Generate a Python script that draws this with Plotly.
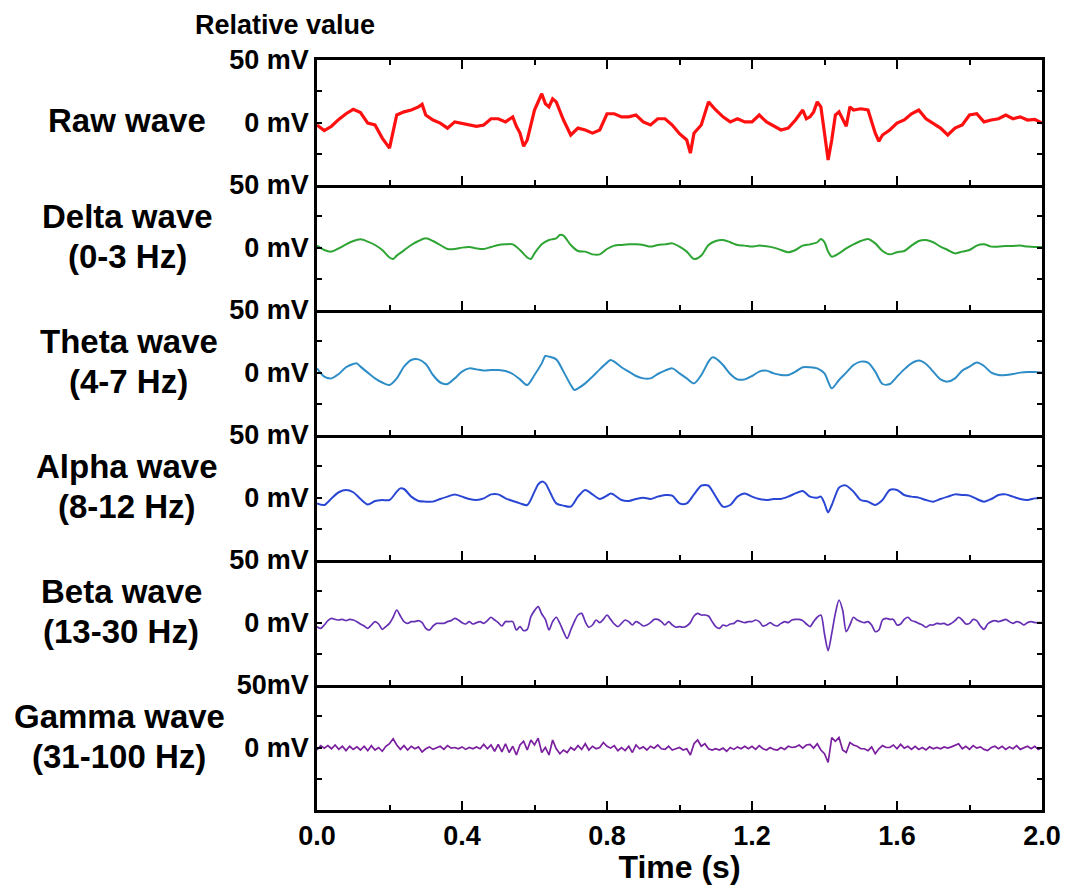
import plotly.graph_objects as go
from plotly.subplots import make_subplots

# ---------------- data ----------------
panel_line1 = ["Raw wave", "Delta wave", "Theta wave", "Alpha wave", "Beta wave", "Gamma wave"]
panel_line2 = ["", "(0-3 Hz)", "(4-7 Hz)", "(8-12 Hz)", "(13-30 Hz)", "(31-100 Hz)"]
y_tick_vals = [-50, -25, 0, 25, 50]
y_tick_text = [
    ["50 mV", "", "0 mV", "", "50 mV"],
    ["50 mV", "", "0 mV", "", ""],
    ["50 mV", "", "0 mV", "", ""],
    ["50 mV", "", "0 mV", "", ""],
    ["50mV", "", "0 mV", "", ""],
    ["", "", "0 mV", "", ""],
]
x_tick_vals = [0.0, 0.4, 0.8, 1.2, 1.6, 2.0]
x_tick_text = ["0.0", "0.4", "0.8", "1.2", "1.6", "2.0"]
x_minor_vals = [0.2, 0.6, 1.0, 1.4, 1.8]

raw_t = [0.00, 0.02, 0.04, 0.06, 0.08, 0.10, 0.12, 0.14, 0.16, 0.18, 0.20, 0.21, 0.22, 0.24, 0.26, 0.28, 0.29,
         0.30, 0.32, 0.34, 0.36, 0.38, 0.40, 0.42, 0.44, 0.46, 0.48, 0.50, 0.52, 0.54, 0.55, 0.56, 0.57, 0.58,
         0.60, 0.62, 0.63, 0.64, 0.65, 0.66, 0.68, 0.70, 0.72, 0.74, 0.76, 0.78, 0.80, 0.82, 0.84, 0.86, 0.88,
         0.90, 0.92, 0.94, 0.96, 0.98, 1.00, 1.02, 1.03, 1.04, 1.06, 1.08, 1.10, 1.12, 1.14, 1.16, 1.18, 1.20,
         1.22, 1.24, 1.26, 1.28, 1.30, 1.32, 1.34, 1.35, 1.36, 1.37, 1.38, 1.39, 1.40, 1.41, 1.42, 1.43, 1.44,
         1.45, 1.46, 1.47, 1.48, 1.50, 1.52, 1.54, 1.55, 1.56, 1.58, 1.60, 1.62, 1.64, 1.66, 1.68, 1.70, 1.72,
         1.74, 1.76, 1.78, 1.80, 1.82, 1.84, 1.86, 1.88, 1.90, 1.92, 1.94, 1.96, 1.98, 2.00]
raw_v = [-2, -6.5, -3, 2.5, 7, 10.5, 8, -0.5, -2, -12.5, -20.5, -6, 6, 8.5, 10, 12.5, 14.5,
         6, 2, -0.5, -4.5, 0.5, -0.5, -2, -3, -2, 3, 3, 0.5, 4.5, -3, -8.5, -19, -14,
         10, 23, 15, 12.5, 19, 16.5, 2, -10, -4.5, -6, -8.5, -6, 7, 7, 4.5, 4.5, 6,
         0.5, -2, 3, 3, -2, -9, -14, -24.5, -8.5, -2, 16.5, 10, 4.5, 0.5, 3, 0.5, 0.5,
         6, 0.5, -3, -6, -4.5, 2, 10, 3, 4.5, 8.5, 16.5, 12.5, -8.5, -30, -14, 6, 8.5,
         3, -3, 12.5, 10, 11, 10, -8.5, -15, -10, -6, -0.5, 2, 7, 10, 3, -0.5, -4.5,
         -10, -4.5, -2, 6, 7, 0.5, 2, 3, 6, 3, 4.5, 2, 2.5, -0.5]

delta_t = [0.00, 0.02, 0.04, 0.06, 0.08, 0.10, 0.12, 0.14, 0.16, 0.18, 0.20, 0.21, 0.22, 0.24, 0.26, 0.28,
           0.30, 0.32, 0.34, 0.36, 0.38, 0.40, 0.42, 0.44, 0.46, 0.48, 0.50, 0.52, 0.54, 0.56, 0.58, 0.59,
           0.60, 0.62, 0.64, 0.66, 0.67, 0.68, 0.70, 0.72, 0.74, 0.76, 0.78, 0.80, 0.82, 0.84, 0.86, 0.88,
           0.90, 0.92, 0.94, 0.96, 0.98, 1.00, 1.02, 1.04, 1.06, 1.08, 1.10, 1.12, 1.14, 1.16, 1.18, 1.20,
           1.22, 1.24, 1.26, 1.28, 1.30, 1.32, 1.34, 1.36, 1.38, 1.39, 1.40, 1.41, 1.42, 1.44, 1.46, 1.48,
           1.50, 1.52, 1.54, 1.56, 1.58, 1.60, 1.62, 1.64, 1.66, 1.68, 1.70, 1.72, 1.74, 1.76, 1.78, 1.80,
           1.82, 1.84, 1.86, 1.88, 1.90, 1.92, 1.94, 1.96, 1.98, 2.00]
delta_v = [1.5, -2, -3.3, -0.7, 2.5, 5.2, 6.5, 4.7, 2, -2, -8, -9.2, -6.5, -2.3, 2, 5.2,
           7.3, 5.2, 2, -1.2, -1.2, -0.1, 0.4, -0.7, -1.2, 0.4, 2, 2.5, 2.5, -2, -8, -9.2,
           -4.7, 2.5, 6, 7.3, 10, 9.5, 2, -2.8, -3.3, -5.5, -5.5, -1.2, 1.5, 2, 2.5, 2.5,
           2, 0.7, 2, 2.5, 3.3, 0.7, -3.3, -9.2, -6.5, 2, 5.2, 6, 4.2, 2, 1.5, 0.7,
           1.5, 1, -0.1, -2, -3.8, -2, 1.5, 2.5, 4.2, 6.8, 4.2, -3.3, -7.3, -4.7, -0.7, 2.5,
           5.2, 6.8, 3.3, -2.8, -5.5, -3.8, -2.8, 1.5, 5.2, 6, 4.2, 0.7, -2, -4.7, -3.3, -2,
           1.5, 2.5, 0.7, 0.7, 1.2, 1.2, 1.5, 0.7, 0.4, 0.4]

theta_t = [0.00, 0.02, 0.04, 0.06, 0.08, 0.10, 0.11, 0.12, 0.14, 0.16, 0.18, 0.20, 0.22, 0.24, 0.26, 0.28,
           0.30, 0.32, 0.34, 0.36, 0.38, 0.40, 0.42, 0.44, 0.46, 0.48, 0.50, 0.52, 0.54, 0.56, 0.58, 0.60,
           0.62, 0.63, 0.64, 0.66, 0.68, 0.70, 0.71, 0.72, 0.74, 0.76, 0.78, 0.80, 0.81, 0.82, 0.84, 0.86,
           0.88, 0.90, 0.92, 0.94, 0.96, 0.98, 1.00, 1.02, 1.04, 1.06, 1.08, 1.09, 1.10, 1.12, 1.14, 1.16,
           1.18, 1.20, 1.22, 1.24, 1.26, 1.28, 1.30, 1.32, 1.34, 1.36, 1.38, 1.40, 1.41, 1.42, 1.44, 1.46,
           1.48, 1.50, 1.52, 1.54, 1.56, 1.58, 1.60, 1.62, 1.64, 1.66, 1.68, 1.70, 1.72, 1.74, 1.76, 1.78,
           1.80, 1.82, 1.84, 1.86, 1.88, 1.90, 1.92, 1.94, 1.96, 1.98, 2.00]
theta_v = [3.3, -3.3, -4.7, -1.2, 4.2, 6.8, 7.3, 4.7, -0.1, -4.7, -8, -10, -4.7, 4.7, 10, 10.5,
           6.8, -2, -8, -9.2, -4.7, 0.7, 3.3, 2.5, 1.5, 2, 2, 1.2, -1.2, -5.5, -10, -2,
           7.3, 13.2, 12.7, 10.5, 0.7, -10, -14, -12.7, -8.7, -3.3, 2.5, 7.9, 10, 8.7, 4.2, 0.7,
           -2.8, -4.7, -4.7, -1.2, 1.5, 3.3, -0.7, -4.7, -8.7, -2, 8.7, 12.1, 11.3, 6, -1.2, -5.5,
           -5.5, -2.8, 0.7, 1.5, -0.7, -2, -2, 0.7, 4.2, 4.2, 3.3, -0.7, -7.3, -12.7, -6, -0.1,
           6, 8.7, 7.9, 0.7, -9.2, -9.2, -3.3, 2.5, 7.3, 9.5, 6.8, 0.7, -5.5, -7.3, -4.7, 1.5,
           4.7, 7.9, 5.2, -0.1, -2, -2, -1.2, -0.1, 0.4, 0.4, -0.1]

alpha_t = [0.00, 0.02, 0.04, 0.06, 0.08, 0.10, 0.12, 0.14, 0.16, 0.18, 0.20, 0.22, 0.23, 0.24, 0.26, 0.28,
           0.30, 0.32, 0.34, 0.36, 0.38, 0.40, 0.42, 0.44, 0.46, 0.48, 0.50, 0.52, 0.54, 0.56, 0.58, 0.60,
           0.61, 0.62, 0.63, 0.64, 0.66, 0.68, 0.70, 0.72, 0.74, 0.76, 0.78, 0.80, 0.81, 0.82, 0.84, 0.86,
           0.88, 0.90, 0.92, 0.94, 0.96, 0.98, 1.00, 1.02, 1.04, 1.06, 1.07, 1.08, 1.10, 1.12, 1.14, 1.16,
           1.18, 1.20, 1.22, 1.24, 1.26, 1.28, 1.30, 1.32, 1.34, 1.36, 1.38, 1.39, 1.40, 1.41, 1.42, 1.44,
           1.45, 1.46, 1.48, 1.50, 1.52, 1.54, 1.56, 1.58, 1.60, 1.62, 1.64, 1.66, 1.68, 1.70, 1.72, 1.74,
           1.76, 1.78, 1.80, 1.82, 1.84, 1.86, 1.88, 1.90, 1.92, 1.94, 1.96, 1.98, 2.00]
alpha_v = [-4.7, -6, -0.7, 4.2, 6, 4.2, -1.2, -5.5, -2.8, -2, -2, 4.7, 7.3, 6.8, 0.7, -2.8,
           -3.3, -3.3, -1.2, 0.7, 2.5, 0.7, -1.2, -2, -0.7, 2.5, 2.5, -0.7, -2.8, -4.7, -6, 4.7,
           10.5, 12.7, 11.3, 6, -4.7, -6.5, -7.3, 0.7, 6, 2.5, -1.2, 1.5, 3.3, 2, -2, -2.8,
           -1.2, -0.1, -1.2, 0.7, 2, 1.5, -4.7, -4.7, 2.5, 9.5, 10, 9.5, 0.7, -7.3, -6, 0.7,
           3.3, 0.7, -1.2, -2, -1.2, -1.2, 0.7, 3.3, 5.2, 0.7, -0.1, 0.7, -4.7, -11.9, -6, 7.9,
           9.5, 9.5, 4.7, -2, -3.3, -6, -2, 6, 6, 2, 0.7, -0.1, -2, -3.3, -1.2, 0.7,
           2.5, 2, 1.5, -1.2, -3.3, -1.2, 2, 2.5, 0.7, -1.2, -2, -0.7, -0.1]

beta_t = [i / 100 for i in range(201)]
beta_v = [-3.3, -4.7, -2, 1.5, 3.3, 2.5, 2, 2.5, 1.5, 2.5, 2, 0.7, -1.2, -2.8, -4.7, -2, 0.7, -1.2, -5.5, -3.3,
          -0.7, 4.2, 10, 5.2, 0.7, -0.7, 0.7, 0.7, 1.5, -0.1, -4.7, -6, -2.8, -0.7, -0.7, -0.7, 0.7, 1.5, 3.3, 2,
          -0.1, -1.2, 0.7, -1.2, -0.1, 0.7, -0.7, 1.5, 4.2, 2, -0.1, -2.8, 0.7, 0.7, 0.7, -6, -3.3, -6.5, -5.5, 4.7,
          9.5, 12.7, 6.8, 2.5, -6, 0.7, 4.2, -0.7, -7.3, -12.7, -6, 0.7, 6, 7.3, 0.7, -3.8, -2, 2, -0.1, 2.5,
          6, 2.5, -1.2, -3.3, -0.7, 2, 0.7, -2, 0.7, -0.7, -2.8, -2, -0.1, 2.5, 2.5, 0.7, -2, 0.7, -2, -3.8,
          -3.3, -3.8, -2.8, -0.1, 5.2, 7.3, 6, 6, 5.2, 0.7, -3.3, -4.7, -2, -2.8, -1.2, -0.7, 1.5, 0.7, -0.1, 0.7,
          0.7, 2, 0.7, -2.8, -2, -0.1, -2, -2.8, -0.7, 0.7, -0.1, 2, 2.5, 2.5, 1.5, -1.2, -3.3, 0.7, 4.2, 6,
          -9.2, -22.5, -8.7, 7.3, 18, 10, -7.3, -2, 4.2, 2, 0.7, -0.1, 0.7, -2, -7.3, -6, 2, 3.3, 2.5, 2.5,
          -2, -1.2, 2.5, 4.2, 1.5, 0.7, -0.7, -2, -3.8, -2, -2, -0.7, -1.2, -0.7, -2, -0.7, 1.5, 4.2, 2, -1.2,
          -0.7, 2.5, 1.5, -2.8, -5.5, -1.2, 0.7, 1.5, 0.7, 1.5, 2.5, 0.7, -0.7, 0.7, -0.1, -2, -0.1, 0.7, -0.1, -0.1,
          -0.1]

gamma_t = [i / 100 for i in range(201)]
gamma_v = [-2, 1.5, -0.5, 1.5, -1, 2, -1.5, 1, -2.5, 1, -1.5, 0.5, -2, 1, -2.5, 1.5, -2, 0, -3, 1,
           3, 7, 2, -1.5, 1.5, -2, 1, -1, 0.5, -3.5, -1, 0.5, -1.5, 0, 1, -1.5, 1.5, -0.5, 0, -1,
           0.5, -1.5, 0, -1, 0.5, -1, 2.5, -1, 2, -3, 2.5, -3.5, 3, -4, 1, -6, 2, 5, -2, 6,
           2, 7.5, -4, 0, -6, 6, -1, -5, -2, -4, 0, -2, 1.5, -1.5, 3, -2, 1, -1, 0, 4,
           1, -0.5, 1.5, -2.5, 0, -2.5, 1, -4, 2, -1, 0.5, -2, 1, -0.5, 2, -1, -1.5, 1, -2, -1,
           0, -2, -1, -6, 3, 6, 1, 3, -1, -2, -1, -2, -0.5, -3, 0, -1.5, 0.5, -1, 1, -1,
           1, -1.5, 1.5, -1, -2, 0, -1.5, -2, 0, -1.5, 1, 0, 0.5, 2, -0.5, 2, 2.5, -0.5, 3, -2,
           -5, -12, 8, 5, 8, -2, -4, 4, 2, 1, -1, -1, -2.5, 0.5, -5, -1, 1.5, 0, 0, 2,
           -1, 2.5, -0.5, 1, -1.5, 1, -1.5, 0, -2, 0.5, -1, 0, -1, 0.5, -0.5, 0.5, 1.5, 3, -1, 1,
           -1.5, 1.5, -0.5, 0.5, -1.5, -2.5, 0, 1, -1, 1, -1.5, 0.5, -1, 1.5, -1.5, 0, 1, -1, 1, -1.5,
           0]

series = [
    (raw_t, raw_v, "#ff1010", 3.2, "linear"),
    (delta_t, delta_v, "#2ea434", 2.0, "spline"),
    (theta_t, theta_v, "#2e8dc6", 2.0, "spline"),
    (alpha_t, alpha_v, "#2a46d4", 2.0, "spline"),
    (beta_t, beta_v, "#6630b4", 1.7, "spline"),
    (gamma_t, gamma_v, "#7a1f9e", 1.7, "linear"),
]

FONT = "Liberation Sans, Arial, sans-serif"
label_x = [-0.262, -0.261, -0.26, -0.262, -0.27, -0.273]

fig = make_subplots(rows=6, cols=1, shared_xaxes=True, vertical_spacing=0)

for i, (t, v, c, w, shp) in enumerate(series):
    fig.add_trace(go.Scatter(x=t, y=v, mode="lines",
                             line=dict(color=c, width=w, shape=shp, smoothing=0.8),
                             showlegend=False, hoverinfo="skip"), row=i + 1, col=1)

for i in range(6):
    r = i + 1
    fig.update_yaxes(row=r, col=1, range=[-50, 50], tickvals=y_tick_vals, ticktext=y_tick_text[i],
                     ticks="inside", ticklen=5, tickwidth=2, tickcolor="black",
                     showline=True, linecolor="black", linewidth=2.5, mirror="allticks",
                     showgrid=False, zeroline=False, automargin=False,
                     tickfont=dict(family=FONT, size=27, color="black", weight="bold"))
    fig.update_xaxes(row=r, col=1, range=[0, 2], tickvals=x_tick_vals, ticktext=x_tick_text,
                     ticks="inside", ticklen=9, tickwidth=2, tickcolor="black",
                     minor=dict(tickvals=x_minor_vals, ticks="inside", ticklen=5,
                                tickwidth=2, tickcolor="black"),
                     showline=True, linecolor="black", linewidth=2.5,
                     mirror="allticks" if r == 1 else False,
                     showgrid=False, zeroline=False, automargin=False,
                     tickfont=dict(family=FONT, size=27, color="black", weight="bold"))

fig.update_xaxes(row=6, col=1, showticklabels=True, ticklabelstandoff=0,
                 title=dict(text="Time (s)", standoff=13,
                            font=dict(family=FONT, size=32, color="black", weight="bold")))

annotations = []
lab_font = dict(family=FONT, size=33, color="black", weight="bold")
for i in range(6):
    yref = "y domain" if i == 0 else f"y{i + 1} domain"
    if panel_line2[i]:
        annotations.append(dict(text=panel_line1[i], xref="paper", yref=yref, x=label_x[i], y=0.745,
                                xanchor="center", yanchor="middle", showarrow=False, font=lab_font))
        annotations.append(dict(text=panel_line2[i], xref="paper", yref=yref, x=label_x[i], y=0.43,
                                xanchor="center", yanchor="middle", showarrow=False, font=lab_font))
    else:
        annotations.append(dict(text=panel_line1[i], xref="paper", yref=yref, x=label_x[i], y=0.52,
                                xanchor="center", yanchor="middle", showarrow=False, font=lab_font))
annotations.append(dict(text="Relative value", xref="paper", yref="paper", x=-0.0448, y=1.0467,
                        xanchor="center", yanchor="middle", showarrow=False,
                        font=dict(family=FONT, size=27, color="black", weight="bold")))

# page body has an 8px margin: size/margins chosen so the plot area sits at x 317-1042, y 60-810
fig.update_layout(width=1053, height=877, margin=dict(l=309, r=19, t=52, b=75, autoexpand=False),
                  paper_bgcolor="white", plot_bgcolor="white", annotations=annotations,
                  font=dict(family=FONT, color="black"))

fig.write_html("out.html")
